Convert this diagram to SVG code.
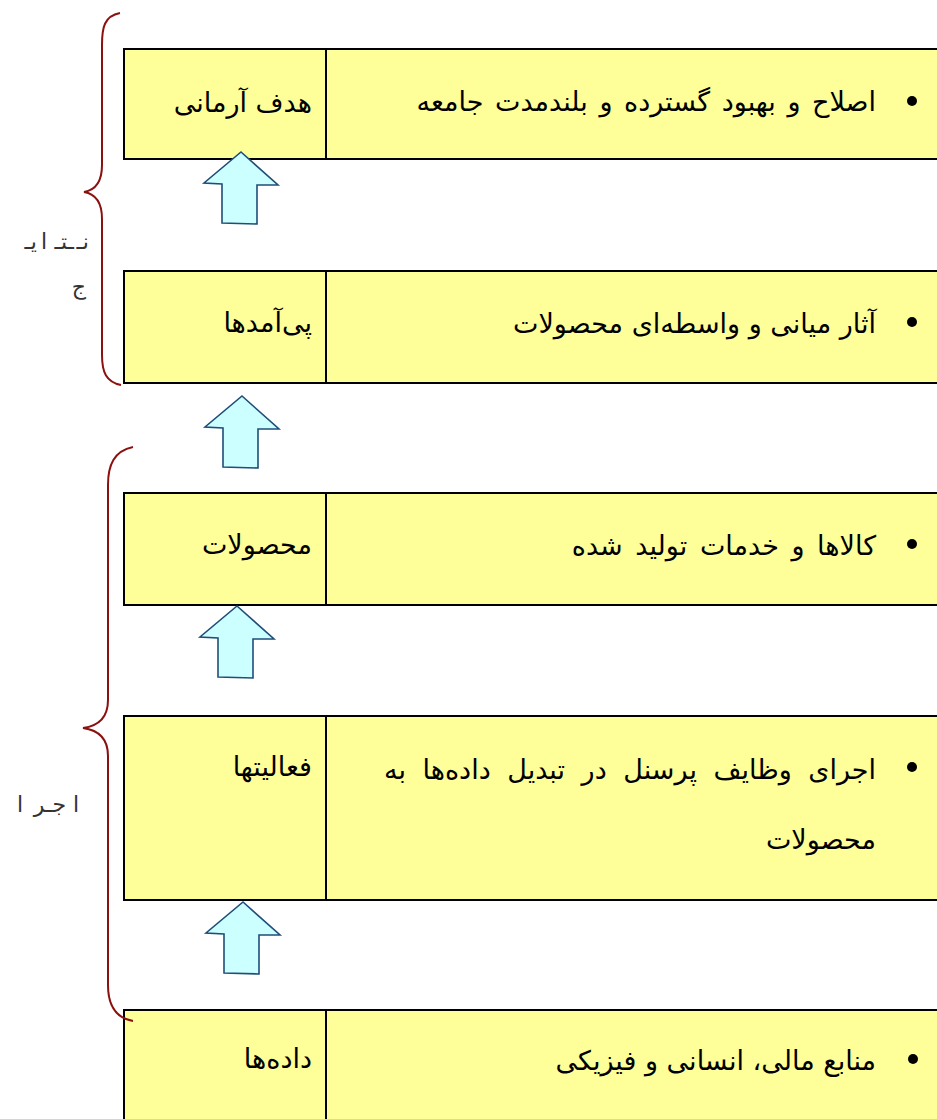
<svg xmlns="http://www.w3.org/2000/svg" width="937" height="1119" viewBox="0 0 937 1119">
<style>
.box{fill:#FFFF99;stroke:#000;stroke-width:2}
.div{stroke:#000;stroke-width:2}
.t{font-family:"DejaVu Sans",sans-serif;font-size:27px;fill:#000;text-anchor:end}
.lab{font-family:"DejaVu Sans",sans-serif;font-size:22px;fill:#333;text-anchor:end}
.brace{fill:none;stroke:#8B1010;stroke-width:2}
.arrow{fill:#CCFFFF;stroke:#1F4E79;stroke-width:1.6;stroke-linejoin:miter}
</style>
<defs>
<path id="arr" d="M0,0 L37,33 L16,33 L16,72 L-19,71 L-19,32 L-37,31 Z"/>
</defs>
<rect width="937" height="1119" fill="#fff"/>
<g id="row1">
<rect class="box" x="124" y="49" width="830" height="110"/>
<line class="div" x1="326" y1="49" x2="326" y2="159"/>
<text class="t" x="312" y="112">هدف آرمانی</text>
<circle cx="912" cy="101" r="5"/>
<text class="t" x="876" y="111" style="word-spacing:3px">اصلاح و بهبود گسترده و بلندمدت جامعه</text>
</g>
<g id="row2">
<rect class="box" x="124" y="271" width="830" height="112"/>
<line class="div" x1="326" y1="271" x2="326" y2="383"/>
<text class="t" x="312" y="332">پی‌آمدها</text>
<circle cx="912" cy="322" r="5"/>
<text class="t" x="876" y="333">آثار میانی و واسطه‌ای محصولات</text>
</g>
<g id="row3">
<rect class="box" x="124" y="493" width="830" height="112"/>
<line class="div" x1="326" y1="493" x2="326" y2="605"/>
<text class="t" x="312" y="554">محصولات</text>
<circle cx="912" cy="544" r="5"/>
<text class="t" x="876" y="555" style="word-spacing:4px">کالاها و خدمات تولید شده</text>
</g>
<g id="row4">
<rect class="box" x="124" y="716" width="830" height="184"/>
<line class="div" x1="326" y1="716" x2="326" y2="900"/>
<text class="t" x="312" y="776">فعالیتها</text>
<circle cx="912" cy="767" r="5"/>
<text class="t" x="876" y="779" style="word-spacing:8px">اجرای وظایف پرسنل در تبدیل داده‌ها به</text>
<text class="t" x="876" y="849">محصولات</text>
</g>
<g id="row5">
<rect class="box" x="124" y="1010" width="830" height="130"/>
<line class="div" x1="326" y1="1010" x2="326" y2="1125"/>
<text class="t" x="312" y="1068">داده‌ها</text>
<circle cx="913" cy="1059" r="5"/>
<text class="t" x="876" y="1070">منابع مالی، انسانی و فیزیکی</text>
</g>
<g id="connectors">
<use href="#arr" class="arrow" x="241" y="152"/>
<use href="#arr" class="arrow" x="242" y="396"/>
<use href="#arr" class="arrow" x="237" y="606"/>
<use href="#arr" class="arrow" x="243" y="902"/>
</g>
<g id="brace1">
<path class="brace" d="M120,13 C104,16 102,28 102,45 L102,165 C102,182 96,190 84,192 C96,194 102,202 102,219 L102,355 C102,372 106,382 121,385"/>
<text class="lab" y="249"><tspan x="89">نـ</tspan><tspan x="74">ـتـ</tspan><tspan x="47">ا</tspan><tspan x="37">یـ</tspan></text>
<text class="lab" x="86" y="294">ج</text>
</g>
<g id="brace2">
<path class="brace" d="M133,447 C114,451 108,465 108,485 L108,700 C108,718 98,726 83,728 C98,730 108,738 108,756 L108,985 C108,1005 116,1018 133,1021"/>
<text class="lab" y="812"><tspan x="79">ا</tspan><tspan x="66">جـر</tspan><tspan x="23">ا</tspan></text>
</g>
</svg>
